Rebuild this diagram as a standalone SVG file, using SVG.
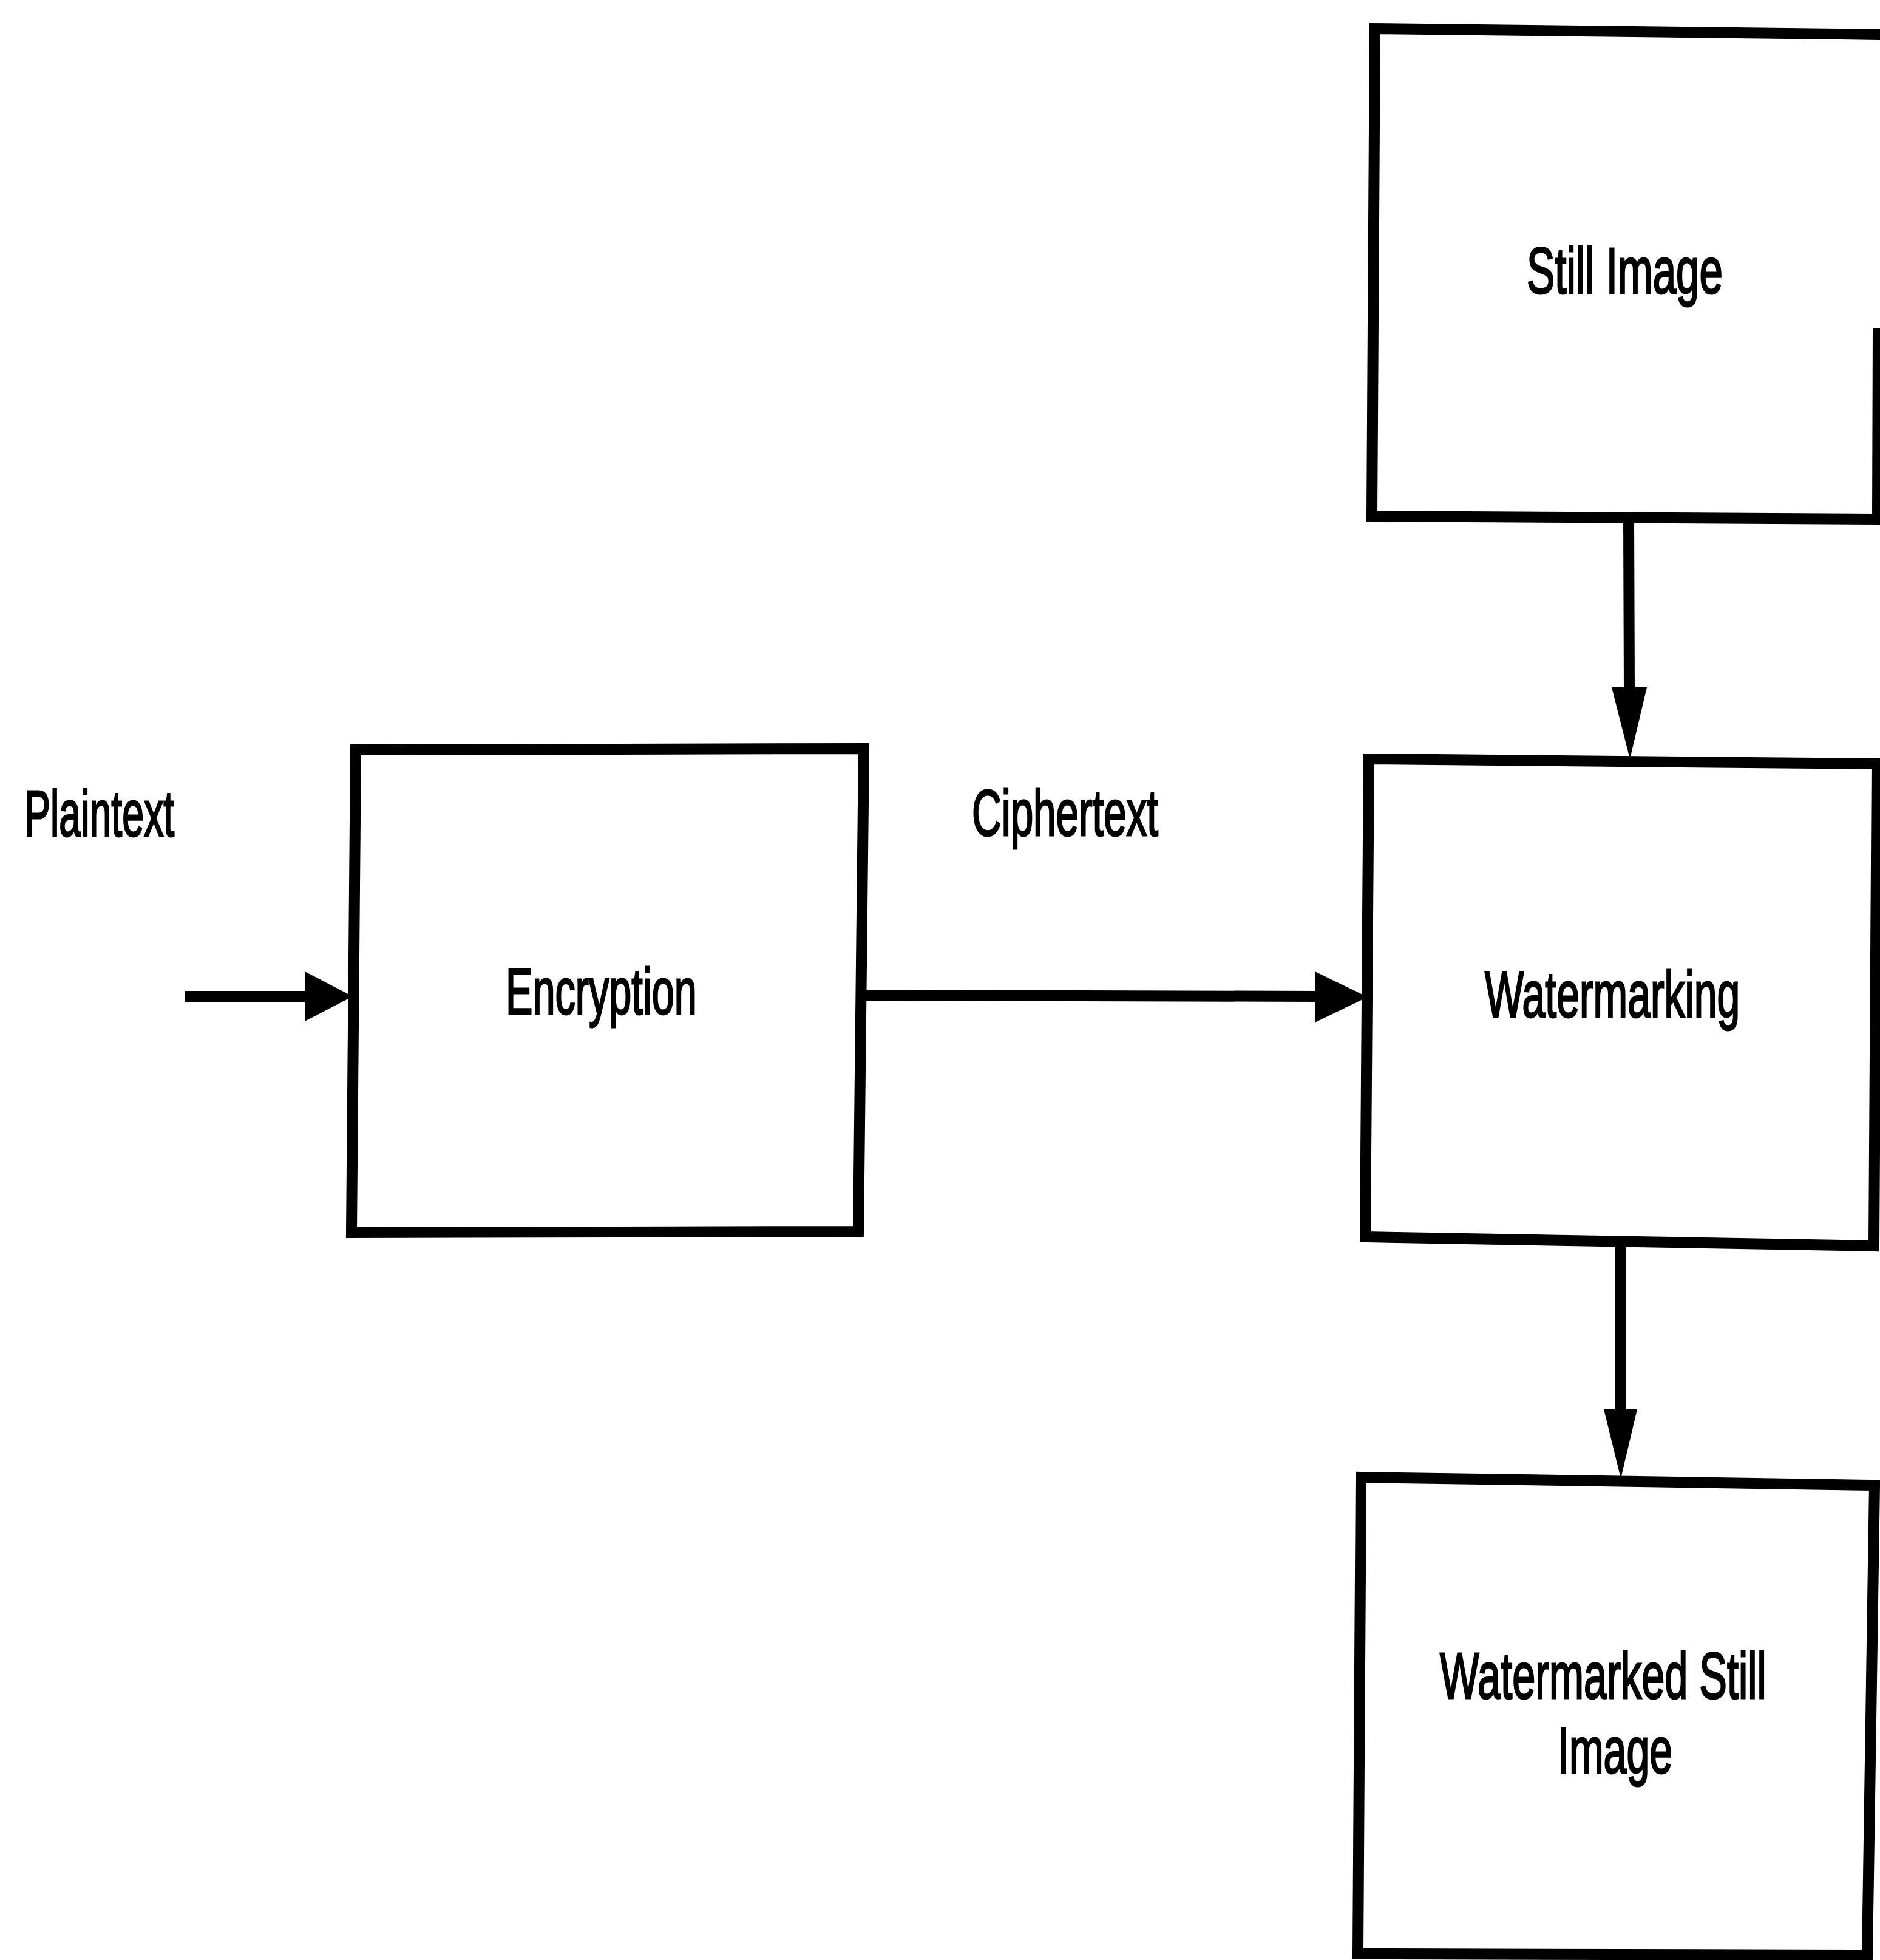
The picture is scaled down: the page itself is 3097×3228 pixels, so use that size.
<svg xmlns="http://www.w3.org/2000/svg" width="3097" height="3228" viewBox="0 0 3097 3228">
  <style>
    .box { fill: none; stroke: #000; stroke-width: 18; stroke-linejoin: miter; }
    .wire { fill: none; stroke: #000; stroke-width: 18; }
    .head { fill: #000; stroke: none; }
    .lbl { font-family: "Liberation Sans", Arial, sans-serif; font-size: 108px; fill: #000; stroke: #000; stroke-width: 3; }
  </style>
  <rect x="0" y="0" width="3097" height="3228" fill="#fff"/>

  <!-- connectors -->
  <g id="connectors">
    <g id="edge-plaintext">
      <line class="wire" x1="304" y1="1641" x2="510" y2="1641"/>
      <polygon class="head" points="502,1600 581,1641 502,1682"/>
    </g>
    <g id="edge-ciphertext">
      <line class="wire" x1="1420" y1="1639" x2="2175" y2="1641"/>
      <polygon class="head" points="2166,1600 2253,1642 2166,1684"/>
    </g>
    <g id="edge-still-water">
      <line class="wire" x1="2683" y1="852" x2="2684" y2="1140"/>
      <polygon class="head" points="2655,1132 2713,1132 2685,1250"/>
    </g>
    <g id="edge-water-marked">
      <line class="wire" x1="2670" y1="2048" x2="2670" y2="2328"/>
      <polygon class="head" points="2642,2321 2697,2321 2670,2435"/>
    </g>
  </g>

  <!-- free labels on the input and output of the encryption stage (condensed face) -->
  <text id="label-plaintext" class="lbl" transform="translate(40,1377) scale(0.597,1)">Plaintext</text>
  <text id="label-ciphertext" class="lbl" transform="translate(1601,1376) scale(0.624,1)">Ciphertext</text>

  <!-- nodes -->
  <g id="node-encryption">
    <path class="box" d="M586,1235 L1423,1233 L1414,2028 L579,2030 Z"/>
    <text class="lbl" transform="translate(833,1670) scale(0.617,1)">Encryption</text>
  </g>

  <g id="node-still-image">
    <path class="box" d="M3105,57 L2265,47 L2260,850 L3093,855 L3094,540"/>
    <text class="lbl" transform="translate(2515,483) scale(0.641,1)">Still Image</text>
  </g>

  <g id="node-watermarking">
    <path class="box" d="M2255,1250 L3092,1258 L3087,2052 L2249,2037 Z"/>
    <text class="lbl" transform="translate(2446,1675) scale(0.629,1)">Watermarking</text>
  </g>

  <g id="node-watermarked">
    <path class="box" d="M2242,2433 L3088,2446 L3076,3220 L2237,3218 Z"/>
    <text class="lbl" transform="translate(2372,2797) scale(0.634,1)">Watermarked Still</text>
    <text class="lbl" transform="translate(2566,2920) scale(0.63,1)">Image</text>
  </g>
</svg>
